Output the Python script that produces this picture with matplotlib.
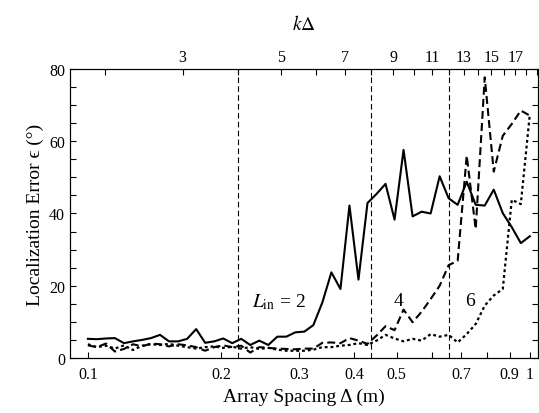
# Localization error vs array spacing for three L_in values.

import matplotlib
matplotlib.use('Agg')
import matplotlib.pyplot as plt
from matplotlib.ticker import NullFormatter

plt.rcParams['font.family'] = ['Liberation Serif', 'DejaVu Serif']
plt.rcParams['mathtext.fontset'] = 'stix'

# array spacing (m), sampled evenly in log from 0.1 to 1
spacing = [0.1000, 0.1048, 0.1099, 0.1151, 0.1207, 0.1265, 0.1326, 0.1389,
           0.1456, 0.1526, 0.1600, 0.1677, 0.1758, 0.1842, 0.1931, 0.2024,
           0.2121, 0.2223, 0.2330, 0.2442, 0.2560, 0.2683, 0.2812, 0.2947,
           0.3089, 0.3237, 0.3393, 0.3556, 0.3728, 0.3907, 0.4095, 0.4292,
           0.4498, 0.4715, 0.4942, 0.5179, 0.5429, 0.5690, 0.5964, 0.6251,
           0.6551, 0.6866, 0.7197, 0.7543, 0.7906, 0.8286, 0.8685, 0.9103,
           0.9541, 1.0000]

# localization error (deg)
errL2 = [5.3, 5.2, 5.4, 5.5, 4.1, 4.6, 5.0, 5.5, 6.4, 4.6, 4.6, 5.3, 8.0,
         4.2, 4.6, 5.4, 4.1, 5.3, 3.6, 4.8, 3.6, 5.9, 5.9, 7.1, 7.3, 9.1,
         15.4, 23.7, 19.1, 42.2, 21.7, 42.9, 45.4, 48.2, 38.3, 57.6, 39.2,
         40.5, 40.0, 50.3, 44.2, 42.4, 48.8, 42.4, 42.2, 46.6, 40.1, 36.2,
         31.8, 33.7]
errL4 = [3.5, 3.0, 4.0, 1.8, 2.5, 3.8, 3.2, 4.0, 3.8, 3.2, 3.8, 3.5, 3.0,
         2.0, 3.0, 3.5, 3.0, 3.4, 1.5, 3.0, 2.8, 2.6, 2.5, 2.4, 2.6, 2.6,
         4.2, 4.3, 4.1, 5.5, 4.8, 3.9, 6.2, 8.8, 7.7, 13.4, 9.9, 12.8, 16.3,
         20.0, 25.7, 26.9, 56.0, 35.7, 77.7, 51.6, 61.5, 64.8, 68.5, 67.1]
errL6 = [3.8, 3.0, 3.4, 2.6, 3.5, 2.2, 3.4, 3.8, 3.6, 3.9, 3.4, 3.0, 2.6,
         3.0, 3.2, 2.8, 3.1, 2.6, 3.0, 2.5, 2.8, 2.3, 2.0, 2.0, 2.0, 2.3,
         3.0, 3.0, 3.4, 3.6, 4.1, 3.6, 4.8, 6.4, 5.4, 4.6, 5.3, 4.8, 6.6,
         5.9, 6.4, 4.3, 6.6, 9.4, 14.5, 17.3, 19.1, 43.8, 42.6, 67.5]

k = 18.32                      # wavenumber (1/m)
kdMarks = [4, 8, 12]           # kΔ = 2 L_in
kdLabels = [3, 5, 7, 9, 11, 13, 15, 17]
xTicks = [0.1, 0.2, 0.3, 0.4, 0.5, 0.6, 0.7, 0.8, 0.9, 1.0]
xTickLabels = ['0.1', '0.2', '0.3', '0.4', '0.5', '', '0.7', '', '0.9', '1']

fig = plt.figure(figsize=(5.39, 4.14), dpi=100)
ax = fig.add_axes([0.1299, 0.1329, 0.8691, 0.698])
xlo, xhi = 0.0911, 1.046

for kd in kdMarks:
    ax.axvline(kd / k, color='k', lw=0.8, dashes=(5, 3))

ax.plot(spacing, errL2, color='k', lw=1.5)
ax.plot(spacing, errL4, color='k', lw=1.5, dashes=(3.8, 2.0))
ax.plot(spacing, errL6, color='k', lw=1.6, dashes=(1.3, 1.3))

ax.set_xscale('log')
ax.set_xlim(xlo, xhi)
ax.set_ylim(0, 80)
ax.set_xticks(xTicks, xTickLabels)
ax.xaxis.set_minor_formatter(NullFormatter())
ax.xaxis.set_minor_locator(plt.NullLocator())
ax.set_yticks([0, 20, 40, 60, 80])
ax.set_yticks(range(0, 81, 5), minor=True)
ax.tick_params(which='both', direction='in', labelsize=11.5,
               top=False, right=True, length=4, width=0.8)
ax.tick_params(axis='x', pad=6)

ax.set_xlabel('Array Spacing Δ (m)', fontsize=14, labelpad=4)
ax.set_ylabel('Localization Error ϵ (°)', fontsize=14, labelpad=4)

ax.text(0.235, 15.8, r'$L_{\rm in}$ = 2', fontsize=14, va='center', ha='left')
ax.text(0.5036, 15.8, '4', fontsize=14, va='center', ha='center')
ax.text(0.7309, 15.8, '6', fontsize=14, va='center', ha='center')

ax2 = ax.twiny()
ax2.set_xscale('log')
ax2.set_xlim(xlo, xhi)
ax2.set_xticks([n / k for n in kdLabels], [str(n) for n in kdLabels])
ax2.set_xticks([n / k for n in range(2, 20)], minor=True)
ax2.xaxis.set_minor_formatter(NullFormatter())
ax2.tick_params(which='both', direction='in', labelsize=11.5,
                length=4, width=0.8, pad=3)
ax2.set_xlabel(r'$k\Delta$', fontsize=14, labelpad=14)

for a in (ax, ax2):
    for sp in a.spines.values():
        sp.set_linewidth(0.8)

plt.savefig('out.png', dpi=100)
